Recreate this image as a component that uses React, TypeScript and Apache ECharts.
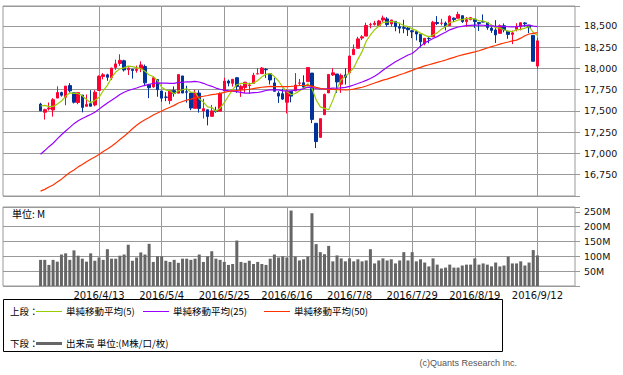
import React, { useEffect, useRef } from 'react';
import * as echarts from 'echarts';

// Trading days shown (DJIA, 2016/3/23 - 2016/9/12)
const dates = [
  '2016/3/23','2016/3/24','2016/3/28','2016/3/29','2016/3/30','2016/3/31','2016/4/1','2016/4/4','2016/4/5','2016/4/6',
  '2016/4/7','2016/4/8','2016/4/11','2016/4/12','2016/4/13','2016/4/14','2016/4/15','2016/4/18','2016/4/19','2016/4/20',
  '2016/4/21','2016/4/22','2016/4/25','2016/4/26','2016/4/27','2016/4/28','2016/4/29','2016/5/2','2016/5/3','2016/5/4',
  '2016/5/5','2016/5/6','2016/5/9','2016/5/10','2016/5/11','2016/5/12','2016/5/13','2016/5/16','2016/5/17','2016/5/18',
  '2016/5/19','2016/5/20','2016/5/23','2016/5/24','2016/5/25','2016/5/26','2016/5/27','2016/5/31','2016/6/1','2016/6/2',
  '2016/6/3','2016/6/6','2016/6/7','2016/6/8','2016/6/9','2016/6/10','2016/6/13','2016/6/14','2016/6/15','2016/6/16',
  '2016/6/17','2016/6/20','2016/6/21','2016/6/22','2016/6/23','2016/6/24','2016/6/27','2016/6/28','2016/6/29','2016/6/30',
  '2016/7/1','2016/7/5','2016/7/6','2016/7/7','2016/7/8','2016/7/11','2016/7/12','2016/7/13','2016/7/14','2016/7/15',
  '2016/7/18','2016/7/19','2016/7/20','2016/7/21','2016/7/22','2016/7/25','2016/7/26','2016/7/27','2016/7/28','2016/7/29',
  '2016/8/1','2016/8/2','2016/8/3','2016/8/4','2016/8/5','2016/8/8','2016/8/9','2016/8/10','2016/8/11','2016/8/12',
  '2016/8/15','2016/8/16','2016/8/17','2016/8/18','2016/8/19','2016/8/22','2016/8/23','2016/8/24','2016/8/25','2016/8/26',
  '2016/8/29','2016/8/30','2016/8/31','2016/9/1','2016/9/2','2016/9/6','2016/9/7','2016/9/8','2016/9/9','2016/9/12',
];

const opens = [
  17581,17485,17526,17512,17652,17717,17661,17799,17714,17600,
  17687,17555,17586,17571,17741,17907,17925,17890,18012,18059,
  18091,17986,17990,17977,17996,18023,17813,17783,17870,17735,
  17664,17622,17740,17710,17912,17726,17711,17531,17711,17501,
  17514,17437,17507,17498,17735,17852,17826,17891,17754,17777,
  17800,17825,17936,17939,17990,17938,17830,17710,17703,17602,
  17734,17736,17827,17832,17845,17946,17355,17190,17456,17713,
  17924,17935,17815,17924,17949,18162,18238,18358,18381,18515,
  18518,18503,18570,18583,18524,18554,18491,18481,18475,18443,
  18434,18404,18292,18354,18373,18541,18532,18535,18504,18592,
  18591,18621,18552,18575,18580,18542,18549,18540,18475,18453,
  18413,18503,18437,18401,18461,18492,18536,18509,18390,18028,
];

const highs = [
  17596,17527,17600,17651,17790,17727,17793,17828,17714,17723,
  17687,17694,17745,17745,17920,17945,17938,18009,18104,18167,
  18103,18012,17990,18034,18084,18046,17813,17899,17870,17736,
  17721,17744,17789,17929,17913,17797,17712,17749,17745,17644,
  17514,17571,17550,17719,17891,17869,17873,17900,17809,17839,
  17833,17949,18003,18017,18005,17938,17892,17733,17762,17754,
  17734,17946,17877,17920,18011,17946,17356,17410,17704,17930,
  18003,17935,17940,18003,18147,18283,18373,18392,18538,18538,
  18560,18572,18622,18605,18571,18555,18537,18573,18490,18454,
  18434,18404,18355,18383,18560,18616,18584,18553,18626,18601,
  18668,18621,18606,18606,18580,18542,18636,18540,18493,18569,
  18518,18530,18437,18446,18533,18538,18545,18509,18390,18359,
];

const lows = [
  17499,17399,17505,17434,17652,17669,17568,17716,17588,17580,
  17484,17555,17554,17555,17741,17872,17855,17866,17984,18031,
  17964,17924,17881,17951,17957,17793,17651,17773,17668,17609,
  17615,17580,17669,17710,17711,17599,17510,17531,17481,17411,
  17331,17437,17480,17498,17735,17790,17787,17713,17666,17709,
  17701,17825,17936,17939,17889,17812,17731,17595,17629,17471,
  17602,17736,17799,17770,17845,17357,17063,17190,17456,17712,
  17912,17713,17713,17811,17949,18162,18238,18334,18381,18472,
  18505,18490,18549,18492,18490,18438,18413,18415,18383,18357,
  18330,18247,18272,18297,18373,18511,18507,18447,18504,18547,
  18591,18536,18491,18567,18478,18442,18544,18455,18419,18300,
  18413,18426,18349,18287,18437,18448,18492,18417,18085,17995,
];

const closes = [
  17502,17516,17535,17633,17717,17685,17793,17737,17603,17716,
  17542,17577,17556,17721,17908,17926,17897,18004,18054,18096,
  17983,18004,17977,17990,18042,17831,17774,17891,17751,17651,
  17661,17741,17706,17928,17711,17721,17535,17711,17530,17527,
  17435,17501,17493,17706,17852,17828,17873,17787,17790,17839,
  17807,17920,17938,18005,17985,17865,17732,17675,17640,17733,
  17675,17805,17830,17781,18011,17401,17140,17410,17695,17930,
  17949,17841,17919,17896,18147,18227,18348,18372,18506,18517,
  18533,18559,18595,18517,18571,18493,18474,18472,18456,18432,
  18405,18314,18355,18352,18544,18529,18533,18496,18614,18576,
  18636,18552,18574,18598,18553,18529,18547,18481,18448,18395,
  18503,18454,18401,18419,18492,18538,18526,18480,18085,18325,
];

// Closes of the 49 sessions before 2016/3/23 (needed for the moving averages)
const priorCloses = [
  16516,16151,16379,15988,16016,15767,15883,16094,15885,16167,15944,16070,16466,
  16449,16154,16337,16417,16205,16027,16014,15915,15660,15974,16196,16454,16413,16392,
  16621,16432,16485,16697,16640,16517,
  16865,16899,16944,17007,17074,16964,17000,16995,17213,17229,17252,17326,17481,17602,17624,17583,
];

// Volume, millions of shares
const volumes = [
  88,88,71,88,82,106,110,88,120,102,
  92,82,110,85,96,88,124,92,92,102,
  106,139,85,96,113,106,142,81,100,100,
  85,81,88,78,92,92,88,92,106,81,
  100,117,92,88,81,71,74,153,81,78,
  85,74,81,74,71,92,106,96,100,96,
  254,99,86,90,99,245,141,114,107,135,
  83,103,93,83,93,83,90,83,86,124,
  76,86,93,86,90,76,86,114,86,114,
  83,90,79,66,93,72,59,62,72,62,
  62,69,72,72,93,72,76,72,66,79,
  66,69,99,76,76,83,69,79,121,103,
];

const gridDates = ['2016/4/13','2016/5/4','2016/5/25','2016/6/16','2016/7/8','2016/7/29','2016/8/19','2016/9/12'];
const priceTicks = [16750,17000,17250,17500,17750,18000,18250,18500];
const volumeTicks = [50,100,150,200,250];
const maPeriods = [5, 25, 50];
const maNames = ['単純移動平均(5)', '単純移動平均(25)', '単純移動平均(50)'];
const maColors = ['#99cc00', '#9900ff', '#ff3300'];

const PAD_LEFT = 9;
const PAD_RIGHT = 9;

const categories: string[] = [];
for (let i = 0; i < PAD_LEFT; i++) categories.push('pl' + i);
dates.forEach((d) => categories.push(d));
for (let i = 0; i < PAD_RIGHT; i++) categories.push('pr' + i);
const gridIdx = new Set(gridDates.map((d) => categories.indexOf(d)));

const allCloses = priorCloses.concat(closes);
function sma(n: number) {
  return closes.map((_, i) => {
    const end = priorCloses.length + i;
    let s = 0;
    for (let j = end - n + 1; j <= end; j++) s += allCloses[j];
    return [i + PAD_LEFT, Math.round((s / n) * 100) / 100];
  });
}

const comma = (v: number) => String(v).replace(/\B(?=(\d{3})+(?!\d))/g, ',');
const GRID_COLOR = '#999';

function buildOption(): any {
  const candleData = dates.map((_, i) => [i + PAD_LEFT, opens[i], closes[i], lows[i], highs[i]]);
  const volData = volumes.map((v, i) => [i + PAD_LEFT, v]);
  const xSplit = { show: true, interval: (idx: number) => gridIdx.has(idx), lineStyle: { color: GRID_COLOR, width: 1 } };
  const labelFont = { fontFamily: 'DejaVu Sans', color: '#111' };
  const txt = (text: string, x: number, y: number, size: number, fam: string, fill = '#000', align = 'left') => ({
    type: 'text', x, y, silent: true,
    style: { text, font: `${size}px ${fam}`, fill, textAlign: align, align, textVerticalAlign: 'middle', verticalAlign: 'middle' },
  });
  const cjk = '"Noto Sans CJK JP"';
  const seg = (x1: number, x2: number, y: number, color: string, w = 1) => ({
    type: 'line', silent: true, shape: { x1, y1: y, x2, y2: y }, style: { stroke: color, lineWidth: w },
  });
  const legendX = [[36, 62, 66], [143, 169, 173], [264, 290, 294]];
  const graphics: any[] = [
    { type: 'rect', silent: true, shape: { x: 3.5, y: 299.5, width: 499, height: 52 }, style: { fill: 'none', stroke: '#000', lineWidth: 1 } },
    txt('上段：', 10, 311, 9.5, cjk),
    txt('下段：', 10, 343, 9.5, cjk),
    seg(36, 62, 343.5, '#666', 3),
    txt('出来高 単位:(M株/口/枚)', 66, 343, 9.5, cjk),
    txt('単位: M', 12, 213.5, 10, cjk),
    txt('(c)Quants Research Inc.', 517, 363, 9, '"Liberation Sans"', '#555', 'right'),
  ];
  maNames.forEach((name, k) => {
    graphics.push(seg(legendX[k][0], legendX[k][1], 311.5, maColors[k], 1));
    graphics.push(txt(name, legendX[k][2], 311, 9.5, cjk));
  });

  return {
    animation: false,
    backgroundColor: '#fff',
    grid: [
      { left: 3, top: 6, width: 572, height: 190, show: true, borderColor: GRID_COLOR, borderWidth: 1, backgroundColor: 'transparent' },
      { left: 3, top: 207, width: 572, height: 79, show: true, borderColor: GRID_COLOR, borderWidth: 1, backgroundColor: 'transparent' },
    ],
    xAxis: [
      {
        type: 'category', gridIndex: 0, data: categories, boundaryGap: false,
        axisLine: { show: false }, axisTick: { show: false }, axisLabel: { show: false }, splitLine: xSplit,
      },
      {
        type: 'category', gridIndex: 1, data: categories, boundaryGap: false,
        axisLine: { show: false }, axisTick: { show: false },
        axisLabel: { show: true, interval: (idx: number) => gridIdx.has(idx), fontSize: 10, margin: 4, ...labelFont },
        splitLine: xSplit,
      },
    ],
    yAxis: [
      {
        type: 'value', gridIndex: 0, position: 'right', min: 16500, max: 18735, interval: 250,
        axisLine: { show: false },
        axisTick: { show: true, length: 5, lineStyle: { color: GRID_COLOR } },
        axisLabel: {
          margin: 9, fontSize: 9.5, ...labelFont,
          formatter: (v: number) => (priceTicks.indexOf(v) >= 0 ? comma(v) : ''),
        },
        splitLine: { show: true, lineStyle: { color: GRID_COLOR, width: 1 } },
      },
      {
        type: 'value', gridIndex: 1, position: 'right', min: 0, max: 266, interval: 50,
        axisLine: { show: false },
        axisTick: { show: true, length: 5, lineStyle: { color: GRID_COLOR } },
        axisLabel: {
          margin: 9, fontSize: 9.5, ...labelFont,
          formatter: (v: number) => (volumeTicks.indexOf(v) >= 0 ? v + 'M' : ''),
        },
        splitLine: { show: true, lineStyle: { color: [GRID_COLOR, GRID_COLOR, GRID_COLOR, GRID_COLOR, GRID_COLOR, 'rgba(0,0,0,0)', GRID_COLOR], width: 1 } },
      },
    ],
    series: [
      {
        type: 'candlestick', xAxisIndex: 0, yAxisIndex: 0, silent: true,
        data: candleData,
        encode: { x: 0, y: [1, 2, 3, 4] },
        barWidth: 3,
        itemStyle: {
          color: '#ff0033', color0: '#003399',
          borderColor: '#ff0033', borderColor0: '#003399', borderColorDoji: '#003399', borderWidth: 1,
        },
      },
      ...maPeriods.map((p, k) => ({
        type: 'line', name: maNames[k], xAxisIndex: 0, yAxisIndex: 0, silent: true,
        data: sma(p), symbol: 'none', showSymbol: false,
        lineStyle: { color: maColors[k], width: 1.2 }, itemStyle: { color: maColors[k] }, z: 3,
      })),
      {
        type: 'bar', xAxisIndex: 1, yAxisIndex: 1, silent: true,
        data: volData, barWidth: 3, itemStyle: { color: '#666' },
      },
    ],
    graphic: graphics,
  };
}

export default function App() {
  const ref = useRef<HTMLDivElement>(null);
  useEffect(() => {
    if (!ref.current) return;
    const chart = echarts.init(ref.current, null, { renderer: 'svg' });
    chart.setOption(buildOption());
    return () => chart.dispose();
  }, []);
  return (
    <div
      ref={ref}
      style={{ position: 'absolute', left: 0, top: 0, width: 623, height: 375, background: '#fff' }}
    />
  );
}
